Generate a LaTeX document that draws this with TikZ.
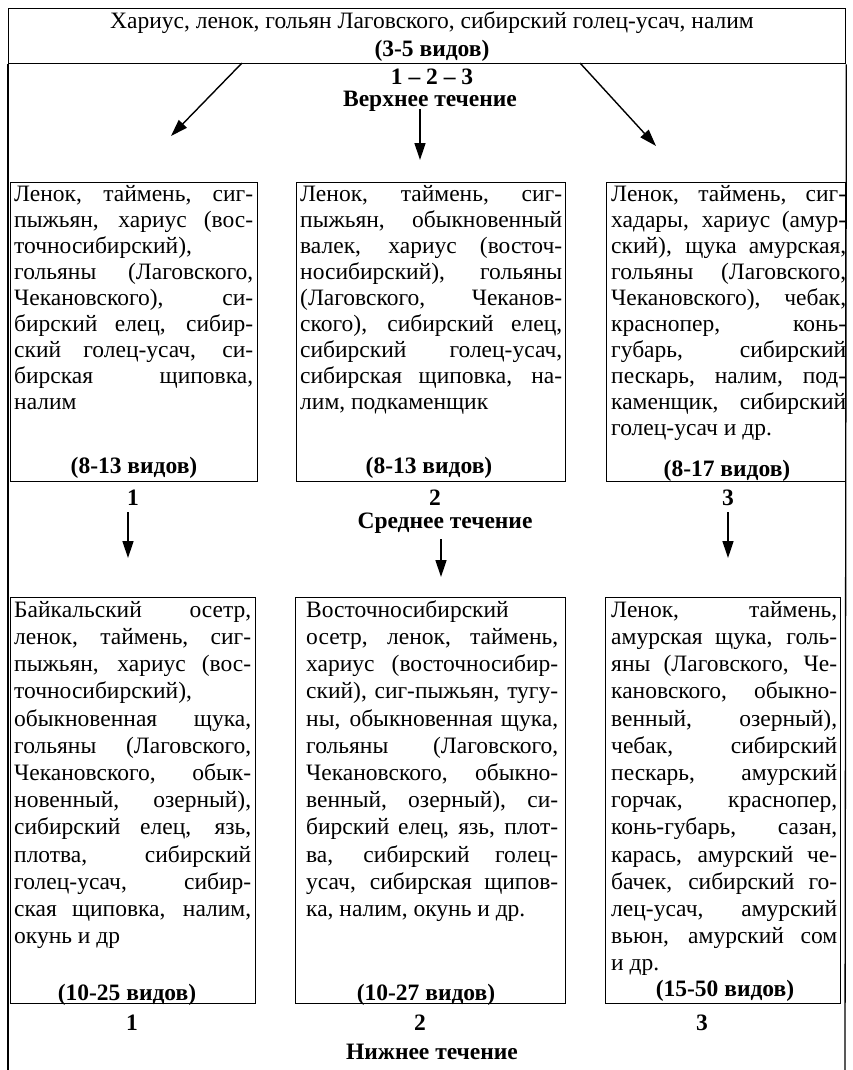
\documentclass[tikz,border=0pt]{standalone}
\usepackage{fontspec}
\setmainfont{Liberation Serif}
\usetikzlibrary{arrows.meta}
\setlength{\parindent}{0pt}
\hyphenpenalty=10000
\exhyphenpenalty=10000
\tolerance=10000
\begin{document}
\begin{tikzpicture}[x=1pt,y=-1pt,
  frame/.style={draw,line width=1.3pt},
  boxshape/.style={draw,line width=1.1pt,anchor=north west,inner sep=0pt,minimum width=#1},
  arr/.style={line width=1.4pt,-{Triangle[length=17pt,width=11pt]}},
  boxtextA/.style={anchor=north west,inner sep=0pt,text width=#1,align=justify,font=\fontsize{23.5}{26}\selectfont},
  boxtextB/.style={anchor=north west,inner sep=0pt,text width=#1,align=justify,font=\fontsize{23.5}{27.2}\selectfont},
  count/.style={anchor=base,inner sep=0pt,font=\bfseries\fontsize{23.5}{26}\selectfont},
  lbl/.style={anchor=base,inner sep=0pt,font=\bfseries\fontsize{23.5}{26}\selectfont}]

\useasboundingbox (0,0) rectangle (852,1070);
\fill[white] (0,0) rectangle (852,1070);

% top box
\node[frame,anchor=north west,inner sep=0pt,minimum width=837pt,minimum height=55pt] (top) at (8,8) {};
\node[anchor=base,inner sep=0pt,font=\fontsize{23.5}{26}\selectfont] (toptext) at (432,29) {Хариус, ленок, гольян Лаговского, сибирский голец-усач, налим};
\node[count] (topcount) at (432,57) {(3-5 видов)};

% outer frame sides
\coordinate (fl) at (8,1070);
\coordinate (fr) at (845,1070);
\draw[line width=1.3pt] (top.south west) -- (fl);
\draw[line width=1.3pt] (top.south east) -- (fr);

\node[lbl] (n123) at (432,85) {1 -- 2 -- 3};
\node[lbl] (upper) at (430,107) {Верхнее течение};

% arrows from top
\coordinate (a1s) at (242,63);
\coordinate (a1e) at (171,136);
\coordinate (a2s) at (420,109);
\coordinate (a2e) at (420,160);
\coordinate (a3s) at (580,63);
\coordinate (a3e) at (656,146);
\draw[arr] (a1s) -- (a1e);
\draw[arr] (a2s) -- (a2e);
\draw[arr] (a3s) -- (a3e);

% row 1 boxes
\node[boxshape=247pt,minimum height=299pt] (b1) at (10,182) {};
\node[boxshape=269pt,minimum height=299pt] (b2) at (296,182) {};
\node[boxshape=239pt,minimum height=299pt] (b3) at (606,182) {};

\node[boxtextA=239pt] (t1) at (14,183) {\strut Ленок, таймень, сиг-\linebreak
пыжьян, хариус (вос-\linebreak
точносибирский),\linebreak
гольяны (Лаговского,\linebreak
Чекановского), си-\linebreak
бирский елец, сибир-\linebreak
ский голец-усач, си-\linebreak
бирская щиповка,\linebreak
налим};

\node[boxtextA=262pt] (t2) at (300,183) {\strut Ленок, таймень, сиг-\linebreak
пыжьян, обыкновенный\linebreak
валек, хариус (восточ-\linebreak
носибирский), гольяны\linebreak
(Лаговского, Чеканов-\linebreak
ского), сибирский елец,\linebreak
сибирский голец-усач,\linebreak
сибирская щиповка, на-\linebreak
лим, подкаменщик};

\node[boxtextA=235pt] (t3) at (611,183) {\strut Ленок, таймень, сиг-\linebreak
хадары, хариус (амур-\linebreak
ский), щука амурская,\linebreak
гольяны (Лаговского,\linebreak
Чекановского), чебак,\linebreak
краснопер, конь-\linebreak
губарь, сибирский\linebreak
пескарь, налим, под-\linebreak
каменщик, сибирский\linebreak
голец-усач и др.};

\node[count] (k1) at (134,473) {(8-13 видов)};
\node[count] (k2) at (429,473) {(8-13 видов)};
\node[count] (k3) at (727,476) {(8-17 видов)};

\node[lbl] (m1) at (133,505) {1};
\node[lbl] (m2) at (435,505) {2};
\node[lbl] (m3) at (728,505) {3};
\node[lbl] (middle) at (445,528) {Среднее течение};

\coordinate (d1s) at (128,512);
\coordinate (d1e) at (128,558);
\coordinate (d2s) at (441,539);
\coordinate (d2e) at (441,577);
\coordinate (d3s) at (728,512);
\coordinate (d3e) at (728,558);
\draw[arr] (d1s) -- (d1e);
\draw[arr] (d2s) -- (d2e);
\draw[arr] (d3s) -- (d3e);

% row 2 boxes
\node[boxshape=245pt,minimum height=406pt] (c1) at (10,597) {};
\node[boxshape=270pt,minimum height=406pt] (c2) at (295,597) {};
\node[boxshape=235pt,minimum height=406pt] (c3) at (605,597) {};

\node[boxtextB=237pt] (u1) at (14,598) {\strut Байкальский осетр,\linebreak
ленок, таймень, сиг-\linebreak
пыжьян, хариус (вос-\linebreak
точносибирский),\linebreak
обыкновенная щука,\linebreak
гольяны (Лаговского,\linebreak
Чекановского, обык-\linebreak
новенный, озерный),\linebreak
сибирский елец, язь,\linebreak
плотва, сибирский\linebreak
голец-усач, сибир-\linebreak
ская щиповка, налим,\linebreak
окунь и др};

\node[boxtextB=252pt] (u2) at (306,598) {\strut Восточносибирский\linebreak
осетр, ленок, таймень,\linebreak
хариус (восточносибир-\linebreak
ский), сиг-пыжьян, тугу-\linebreak
ны, обыкновенная щука,\linebreak
гольяны (Лаговского,\linebreak
Чекановского, обыкно-\linebreak
венный, озерный), си-\linebreak
бирский елец, язь, плот-\linebreak
ва, сибирский голец-\linebreak
усач, сибирская щипов-\linebreak
ка, налим, окунь и др.};

\node[boxtextB=226pt] (u3) at (611,598) {\strut Ленок, таймень,\linebreak
амурская щука, голь-\linebreak
яны (Лаговского, Че-\linebreak
кановского, обыкно-\linebreak
венный, озерный),\linebreak
чебак, сибирский\linebreak
пескарь, амурский\linebreak
горчак, краснопер,\linebreak
конь-губарь, сазан,\linebreak
карась, амурский че-\linebreak
бачек, сибирский го-\linebreak
лец-усач, амурский\linebreak
вьюн, амурский сом\linebreak
и др.};

\node[count] (l1) at (127,1000) {(10-25 видов)};
\node[count] (l2) at (426,1000) {(10-27 видов)};
\node[count] (l3) at (725,996) {(15-50 видов)};

\node[lbl] (p1) at (132,1030) {1};
\node[lbl] (p2) at (420,1030) {2};
\node[lbl] (p3) at (702,1030) {3};
\node[lbl] (lower) at (432,1059) {Нижнее течение};
\end{tikzpicture}
\end{document}
